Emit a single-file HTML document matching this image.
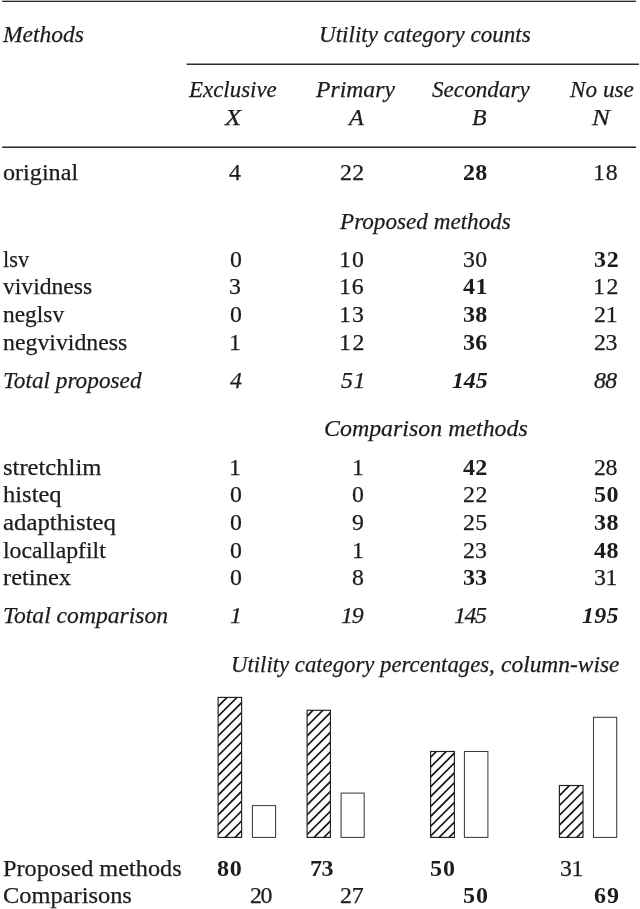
<!DOCTYPE html>
<html lang="en">
<head>
<meta charset="utf-8">
<title>Utility category counts</title>
<style>
html,body{margin:0;padding:0;background:#fff;}
body{width:640px;height:909px;position:relative;overflow:hidden;font-family:"Liberation Serif",serif;font-size:24px;line-height:30px;color:#1c1c1c;}
.t{position:absolute;white-space:nowrap;transform-origin:0 0;-webkit-text-stroke:0.25px #1c1c1c;}
.n{font-size:23px;}
.i{font-style:italic;font-size:24px;}
.n.i{font-size:23px;}
.b{font-weight:bold;-webkit-text-stroke:0;}
svg{position:absolute;left:0;top:0;}

</style>
</head>
<body>
<span class="t i" id="t0" style="left:2.90px;top:19.00px;transform:scaleX(0.9800);">Methods</span>
<span class="t i" id="t1" style="left:319.25px;top:19.00px;transform:scaleX(0.9627);">Utility category counts</span>
<span class="t i" id="t2" style="left:189.48px;top:74.00px;transform:scaleX(0.9546);">Exclusive</span>
<span class="t i" id="t3" style="left:225.16px;top:102.00px;transform:scaleX(1.1052);">X</span>
<span class="t i" id="t4" style="left:315.97px;top:74.00px;transform:scaleX(0.9862);">Primary</span>
<span class="t i" id="t5" style="left:349.15px;top:102.00px;transform:scaleX(1.0083);">A</span>
<span class="t i" id="t6" style="left:432.37px;top:74.00px;transform:scaleX(0.9654);">Secondary</span>
<span class="t i" id="t7" style="left:472.36px;top:102.00px;transform:scaleX(0.9919);">B</span>
<span class="t i" id="t8" style="left:570.17px;top:74.00px;transform:scaleX(0.9680);">No use</span>
<span class="t i" id="t9" style="left:591.80px;top:102.00px;transform:scaleX(1.1204);">N</span>
<span class="t" id="t10" style="left:2.86px;top:157.00px;transform:scaleX(1.0065);">original</span>
<span class="t n" id="t11" style="left:229.15px;top:158.00px;letter-spacing:0.403px;transform:scaleX(1.0350);">4</span>
<span class="t n" id="t12" style="left:340.49px;top:158.00px;letter-spacing:0.443px;transform:scaleX(1.0350);">22</span>
<span class="t n b" id="t13" style="left:462.75px;top:158.00px;letter-spacing:0.331px;transform:scaleX(1.0450);">28</span>
<span class="t n" id="t14" style="left:592.78px;top:158.00px;letter-spacing:0.935px;transform:scaleX(1.0350);">18</span>
<span class="t i" id="t15" style="left:340.05px;top:206.00px;transform:scaleX(0.9646);">Proposed methods</span>
<span class="t" id="t16" style="left:3.16px;top:244.00px;transform:scaleX(0.9300);">lsv</span>
<span class="t n" id="t17" style="left:229.90px;top:245.00px;letter-spacing:0.403px;transform:scaleX(1.0350);">0</span>
<span class="t n" id="t18" style="left:338.63px;top:245.00px;letter-spacing:1.136px;transform:scaleX(1.0350);">10</span>
<span class="t n" id="t19" style="left:463.45px;top:245.00px;letter-spacing:0.239px;transform:scaleX(1.0350);">30</span>
<span class="t n b" id="t20" style="left:594.02px;top:245.00px;letter-spacing:0.784px;transform:scaleX(1.0450);">32</span>
<span class="t" id="t21" style="left:3.19px;top:271.00px;transform:scaleX(0.9839);">vividness</span>
<span class="t n" id="t22" style="left:229.19px;top:272.00px;letter-spacing:0.403px;transform:scaleX(1.0350);">3</span>
<span class="t n" id="t23" style="left:338.63px;top:272.00px;letter-spacing:0.893px;transform:scaleX(1.0350);">16</span>
<span class="t n b" id="t24" style="left:463.07px;top:272.00px;letter-spacing:0.449px;transform:scaleX(1.0450);">41</span>
<span class="t n" id="t25" style="left:592.79px;top:272.00px;letter-spacing:1.576px;transform:scaleX(1.0350);">12</span>
<span class="t" id="t26" style="left:2.82px;top:299.00px;transform:scaleX(0.9749);">neglsv</span>
<span class="t n" id="t27" style="left:229.90px;top:300.00px;letter-spacing:0.403px;transform:scaleX(1.0350);">0</span>
<span class="t n" id="t28" style="left:338.77px;top:300.00px;letter-spacing:1.134px;transform:scaleX(1.0350);">13</span>
<span class="t n b" id="t29" style="left:463.02px;top:300.00px;letter-spacing:0.158px;transform:scaleX(1.0450);">38</span>
<span class="t n" id="t30" style="left:594.36px;top:300.00px;letter-spacing:-0.170px;transform:scaleX(1.0350);">21</span>
<span class="t" id="t31" style="left:2.99px;top:327.00px;transform:scaleX(0.9923);">negvividness</span>
<span class="t n" id="t32" style="left:229.01px;top:328.00px;letter-spacing:0.403px;transform:scaleX(1.0350);">1</span>
<span class="t n" id="t33" style="left:338.63px;top:328.00px;letter-spacing:1.554px;transform:scaleX(1.0350);">12</span>
<span class="t n b" id="t34" style="left:463.08px;top:328.00px;letter-spacing:0.315px;transform:scaleX(1.0450);">36</span>
<span class="t n" id="t35" style="left:594.17px;top:328.00px;letter-spacing:-0.492px;transform:scaleX(1.0350);">23</span>
<span class="t i" id="t36" style="left:3.20px;top:365.00px;transform:scaleX(0.9692);">Total proposed</span>
<span class="t n i" id="t37" style="left:229.71px;top:366.00px;letter-spacing:0.403px;transform:scaleX(1.0350);">4</span>
<span class="t n i" id="t38" style="left:340.78px;top:366.00px;letter-spacing:0.580px;transform:scaleX(1.0350);">51</span>
<span class="t n i b" id="t39" style="left:452.49px;top:366.00px;letter-spacing:-0.179px;transform:scaleX(1.0450);">145</span>
<span class="t n i" id="t40" style="left:594.20px;top:366.00px;letter-spacing:-0.731px;transform:scaleX(1.0350);">88</span>
<span class="t i" id="t41" style="left:323.84px;top:413.00px;transform:scaleX(0.9956);">Comparison methods</span>
<span class="t" id="t42" style="left:3.14px;top:452.00px;transform:scaleX(1.0250);">stretchlim</span>
<span class="t n" id="t43" style="left:229.01px;top:453.00px;letter-spacing:0.403px;transform:scaleX(1.0350);">1</span>
<span class="t n" id="t44" style="left:352.01px;top:453.00px;letter-spacing:0.403px;transform:scaleX(1.0350);">1</span>
<span class="t n b" id="t45" style="left:463.06px;top:453.00px;letter-spacing:0.321px;transform:scaleX(1.0450);">42</span>
<span class="t n" id="t46" style="left:594.39px;top:453.00px;letter-spacing:-0.449px;transform:scaleX(1.0350);">28</span>
<span class="t" id="t47" style="left:2.99px;top:479.00px;transform:scaleX(1.0230);">histeq</span>
<span class="t n" id="t48" style="left:229.90px;top:480.00px;letter-spacing:0.403px;transform:scaleX(1.0350);">0</span>
<span class="t n" id="t49" style="left:351.90px;top:480.00px;letter-spacing:0.403px;transform:scaleX(1.0350);">0</span>
<span class="t n" id="t50" style="left:463.24px;top:480.00px;letter-spacing:0.528px;transform:scaleX(1.0350);">22</span>
<span class="t n b" id="t51" style="left:593.54px;top:480.00px;letter-spacing:0.551px;transform:scaleX(1.0450);">50</span>
<span class="t" id="t52" style="left:3.08px;top:507.00px;transform:scaleX(1.0333);">adapthisteq</span>
<span class="t n" id="t53" style="left:229.90px;top:508.00px;letter-spacing:0.403px;transform:scaleX(1.0350);">0</span>
<span class="t n" id="t54" style="left:351.82px;top:508.00px;letter-spacing:0.403px;transform:scaleX(1.0350);">9</span>
<span class="t n" id="t55" style="left:463.21px;top:508.00px;letter-spacing:0.242px;transform:scaleX(1.0350);">25</span>
<span class="t n b" id="t56" style="left:593.70px;top:508.00px;letter-spacing:0.485px;transform:scaleX(1.0450);">38</span>
<span class="t" id="t57" style="left:3.44px;top:535.00px;transform:scaleX(0.9883);">locallapfilt</span>
<span class="t n" id="t58" style="left:229.90px;top:536.00px;letter-spacing:0.403px;transform:scaleX(1.0350);">0</span>
<span class="t n" id="t59" style="left:352.01px;top:536.00px;letter-spacing:0.403px;transform:scaleX(1.0350);">1</span>
<span class="t n" id="t60" style="left:463.48px;top:536.00px;letter-spacing:0.078px;transform:scaleX(1.0350);">23</span>
<span class="t n b" id="t61" style="left:593.67px;top:536.00px;letter-spacing:0.496px;transform:scaleX(1.0450);">48</span>
<span class="t" id="t62" style="left:3.01px;top:562.00px;transform:scaleX(1.0212);">retinex</span>
<span class="t n" id="t63" style="left:229.90px;top:563.00px;letter-spacing:0.403px;transform:scaleX(1.0350);">0</span>
<span class="t n" id="t64" style="left:351.62px;top:563.00px;letter-spacing:0.403px;transform:scaleX(1.0350);">8</span>
<span class="t n b" id="t65" style="left:463.39px;top:563.00px;letter-spacing:0.077px;transform:scaleX(1.0450);">33</span>
<span class="t n" id="t66" style="left:593.99px;top:563.00px;letter-spacing:-0.499px;transform:scaleX(1.0350);">31</span>
<span class="t i" id="t67" style="left:3.29px;top:600.00px;transform:scaleX(0.9839);">Total comparison</span>
<span class="t n i" id="t68" style="left:230.03px;top:601.00px;letter-spacing:0.403px;transform:scaleX(1.0350);">1</span>
<span class="t n i" id="t69" style="left:340.88px;top:601.00px;letter-spacing:-1.044px;transform:scaleX(1.0350);">19</span>
<span class="t n i" id="t70" style="left:453.51px;top:601.00px;letter-spacing:-1.304px;transform:scaleX(1.0350);">145</span>
<span class="t n i b" id="t71" style="left:581.80px;top:601.00px;letter-spacing:0.277px;transform:scaleX(1.0450);">195</span>
<span class="t i" id="t72" style="left:230.84px;top:649.00px;transform:scaleX(0.9477);">Utility category percentages,</span>
<span class="t i" id="t73" style="left:500.82px;top:649.00px;transform:scaleX(0.9769);">column-wise</span>
<span class="t" id="t74" style="left:3.27px;top:853.00px;transform:scaleX(1.0109);">Proposed methods</span>
<span class="t n b" id="t75" style="left:216.89px;top:854.00px;letter-spacing:0.816px;transform:scaleX(1.0450);">80</span>
<span class="t n b" id="t76" style="left:310.29px;top:854.00px;letter-spacing:-0.578px;transform:scaleX(1.0450);">73</span>
<span class="t n b" id="t77" style="left:430.04px;top:854.00px;letter-spacing:0.900px;transform:scaleX(1.0450);">50</span>
<span class="t n" id="t78" style="left:559.76px;top:854.00px;letter-spacing:-0.314px;transform:scaleX(1.0350);">31</span>
<span class="t" id="t79" style="left:3.21px;top:880.00px;transform:scaleX(1.0173);">Comparisons</span>
<span class="t n" id="t80" style="left:250.39px;top:881.00px;letter-spacing:-1.380px;transform:scaleX(1.0350);">20</span>
<span class="t n" id="t81" style="left:340.49px;top:881.00px;letter-spacing:-0.235px;transform:scaleX(1.0350);">27</span>
<span class="t n b" id="t82" style="left:463.04px;top:881.00px;letter-spacing:0.900px;transform:scaleX(1.0450);">50</span>
<span class="t n b" id="t83" style="left:594.30px;top:881.00px;letter-spacing:0.877px;transform:scaleX(1.0450);">69</span>
<svg width="640" height="909" viewBox="0 0 640 909">
<rect x="2.2" y="0.65" width="633.9" height="1.35" fill="#2c2c2c"/>
<rect x="186.6" y="63.5" width="452.3" height="1.5" fill="#2c2c2c"/>
<rect x="2.2" y="146.45" width="633.9" height="1.55" fill="#2c2c2c"/>
<clipPath id="c0"><rect x="218.1" y="697.4" width="23.5" height="140"/></clipPath>
<path clip-path="url(#c0)" d="M216.10 866.18L243.60 838.68M216.10 856.32L243.60 828.82M216.10 846.46L243.60 818.96M216.10 836.60L243.60 809.10M216.10 826.74L243.60 799.24M216.10 816.88L243.60 789.38M216.10 807.02L243.60 779.52M216.10 797.16L243.60 769.66M216.10 787.30L243.60 759.80M216.10 777.44L243.60 749.94M216.10 767.58L243.60 740.08M216.10 757.72L243.60 730.22M216.10 747.86L243.60 720.36M216.10 738.00L243.60 710.50M216.10 728.14L243.60 700.64M216.10 718.28L243.60 690.78M216.10 708.42L243.60 680.92M216.10 698.56L243.60 671.06" fill="none" stroke="#141414" stroke-width="1.65"/>
<rect x="218.1" y="697.4" width="23.5" height="140" fill="none" stroke="#1e1e1e" stroke-width="1.15"/>
<rect x="252.4" y="805.6" width="23.2" height="31.8" fill="#fff" stroke="#3c3c3c" stroke-width="1.05"/>
<clipPath id="c2"><rect x="307.1" y="710.3" width="23.3" height="127.1"/></clipPath>
<path clip-path="url(#c2)" d="M305.10 866.08L332.40 838.78M305.10 856.22L332.40 828.92M305.10 846.36L332.40 819.06M305.10 836.50L332.40 809.20M305.10 826.64L332.40 799.34M305.10 816.78L332.40 789.48M305.10 806.92L332.40 779.62M305.10 797.06L332.40 769.76M305.10 787.20L332.40 759.90M305.10 777.34L332.40 750.04M305.10 767.48L332.40 740.18M305.10 757.62L332.40 730.32M305.10 747.76L332.40 720.46M305.10 737.90L332.40 710.60M305.10 728.04L332.40 700.74M305.10 718.18L332.40 690.88M305.10 708.32L332.40 681.02" fill="none" stroke="#141414" stroke-width="1.65"/>
<rect x="307.1" y="710.3" width="23.3" height="127.1" fill="none" stroke="#1e1e1e" stroke-width="1.15"/>
<rect x="341.1" y="793.1" width="23.1" height="44.3" fill="#fff" stroke="#3c3c3c" stroke-width="1.05"/>
<clipPath id="c4"><rect x="430.6" y="751.5" width="23.8" height="85.9"/></clipPath>
<path clip-path="url(#c4)" d="M428.60 867.68L456.40 839.88M428.60 857.82L456.40 830.02M428.60 847.96L456.40 820.16M428.60 838.10L456.40 810.30M428.60 828.24L456.40 800.44M428.60 818.38L456.40 790.58M428.60 808.52L456.40 780.72M428.60 798.66L456.40 770.86M428.60 788.80L456.40 761.00M428.60 778.94L456.40 751.14M428.60 769.08L456.40 741.28M428.60 759.22L456.40 731.42M428.60 749.36L456.40 721.56" fill="none" stroke="#141414" stroke-width="1.65"/>
<rect x="430.6" y="751.5" width="23.8" height="85.9" fill="none" stroke="#1e1e1e" stroke-width="1.15"/>
<rect x="464.4" y="751.5" width="23.5" height="85.9" fill="#fff" stroke="#3c3c3c" stroke-width="1.05"/>
<clipPath id="c6"><rect x="559.4" y="785.5" width="23.6" height="51.9"/></clipPath>
<path clip-path="url(#c6)" d="M557.40 866.58L585.00 838.98M557.40 856.72L585.00 829.12M557.40 846.86L585.00 819.26M557.40 837.00L585.00 809.40M557.40 827.14L585.00 799.54M557.40 817.28L585.00 789.68M557.40 807.42L585.00 779.82M557.40 797.56L585.00 769.96M557.40 787.70L585.00 760.10M557.40 777.84L585.00 750.24" fill="none" stroke="#141414" stroke-width="1.65"/>
<rect x="559.4" y="785.5" width="23.6" height="51.9" fill="none" stroke="#1e1e1e" stroke-width="1.15"/>
<rect x="593.5" y="717.3" width="23.2" height="120.1" fill="#fff" stroke="#3c3c3c" stroke-width="1.05"/>
</svg>
</body>
</html>
